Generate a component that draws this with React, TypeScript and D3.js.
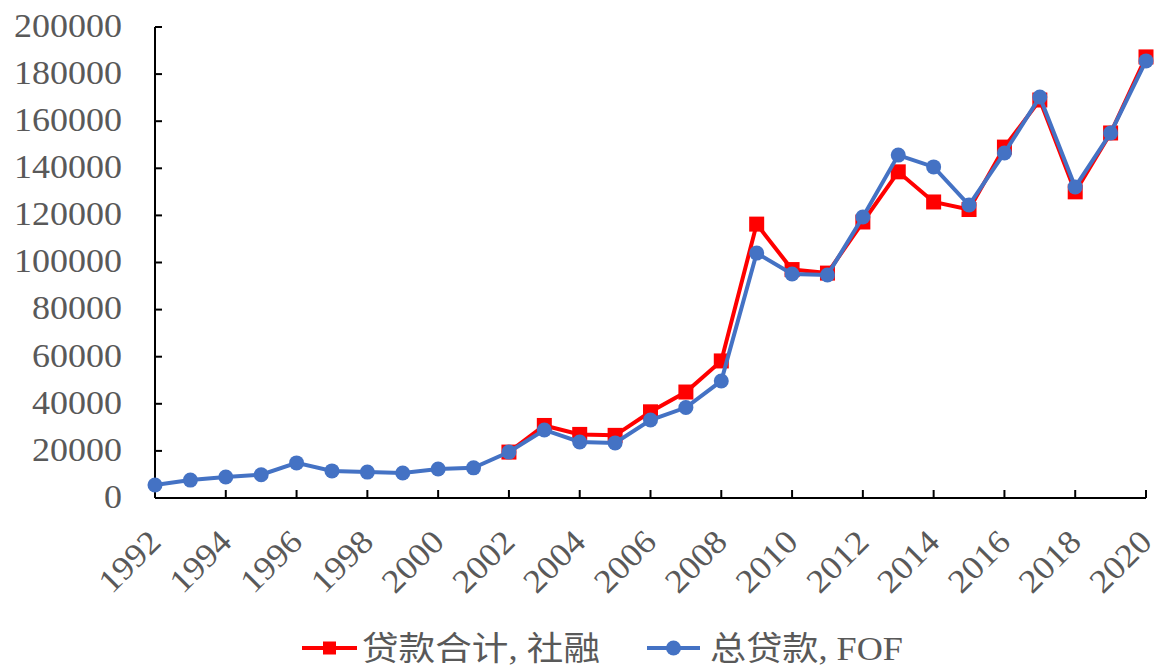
import React from "react";
import * as d3 from "d3";

const years: number[] = d3.range(1992, 2021);
const fofLoans: number[] = [
  5500, 7600, 8900, 9900, 14900, 11500, 11000, 10600, 12300, 12800,
  19500, 28900, 23800, 23400, 33100, 38400, 49700, 104000, 95100, 94700,
  119300, 145600, 140600, 124400, 146500, 170300, 132100, 155000, 185600,
];
const tsfYears: number[] = d3.range(2002, 2021);
const tsfLoans: number[] = [
  19500, 30800, 27000, 26600, 36600, 45000, 58200, 116300, 97000, 95500,
  117200, 138500, 125700, 122500, 149000, 169000, 130000, 155000, 187300,
];
const yTicks: number[] = d3.range(0, 200001, 20000);
const xTicks: number[] = d3.range(1992, 2021, 2);
const seriesNames = ["贷款合计, 社融", "总贷款, FOF"];

const W = 1155;
const H = 668;
const left = 155;
const right = 1146;
const top = 27;
const bottom = 498;
const textColor = "#595959";
const red = "#FF0000";
const blue = "#4472C4";
const font = "'Liberation Serif', 'Times New Roman', 'Noto Sans CJK SC', serif";
const digitW = 18;

export default function App() {
  const x = d3.scaleLinear().domain([1992, 2020]).range([left, right]);
  const y = d3.scaleLinear().domain([0, 200000]).range([bottom, top]);
  const line = d3
    .line<[number, number]>()
    .x((d) => x(d[0]))
    .y((d) => y(d[1]));
  const fof: [number, number][] = years.map((yr, i) => [yr, fofLoans[i]]);
  const tsf: [number, number][] = tsfYears.map((yr, i) => [yr, tsfLoans[i]]);
  const sq = 15;
  const r = 7.5;

  return (
    <svg
      width={W}
      height={H}
      style={{ position: "absolute", left: 0, top: 0, background: "#fff" }}
      fontFamily={font}
    >
      {/* y axis */}
      <line x1={left} x2={left} y1={top} y2={bottom} stroke="#000" strokeWidth={2} />
      {yTicks.map((t) => (
        <g key={t}>
          <line x1={left} x2={left + 7} y1={y(t)} y2={y(t)} stroke="#000" strokeWidth={2} />
          <text
            x={122}
            y={y(t) - 1}
            dy="0.33em"
            textAnchor="end"
            fontSize={33}
            fill={textColor}
            textLength={String(t).length * digitW}
            lengthAdjust="spacingAndGlyphs"
          >
            {t}
          </text>
        </g>
      ))}
      {/* x axis */}
      <line x1={left} x2={right} y1={bottom} y2={bottom} stroke="#000" strokeWidth={2} />
      {xTicks.map((t) => (
        <g key={t}>
          <line x1={x(t)} x2={x(t)} y1={bottom} y2={bottom - 8} stroke="#000" strokeWidth={2} />
          <text
            transform={`translate(${x(t)},${bottom + 38}) rotate(-45)`}
            textAnchor="end"
            dominantBaseline="central"
            fontSize={33}
            fill={textColor}
            textLength={String(t).length * digitW}
            lengthAdjust="spacingAndGlyphs"
          >
            {t}
          </text>
        </g>
      ))}
      {/* series: TSF loans (red squares) */}
      <path d={line(tsf) || ""} fill="none" stroke={red} strokeWidth={4} />
      {tsf.map((d) => (
        <rect
          key={d[0]}
          x={x(d[0]) - sq / 2}
          y={y(d[1]) - sq / 2}
          width={sq}
          height={sq}
          fill={red}
        />
      ))}
      {/* series: FOF loans (blue circles) */}
      <path d={line(fof) || ""} fill="none" stroke={blue} strokeWidth={4} />
      {fof.map((d) => (
        <circle key={d[0]} cx={x(d[0])} cy={y(d[1])} r={r} fill={blue} />
      ))}
      {/* legend */}
      <g transform="translate(302,648)">
        <line x1={0} x2={55} y1={0} y2={0} stroke={red} strokeWidth={4} />
        <rect x={27.5 - 6.5} y={-6.5} width={13} height={13} fill={red} />
        <text
          x={60}
          y={0}
          dy="0.36em"
          fontSize={33}
          fill={textColor}
          textLength={238}
          lengthAdjust="spacingAndGlyphs"
        >
          {seriesNames[0]}
        </text>
      </g>
      <g transform="translate(647,648)">
        <line x1={0} x2={53} y1={0} y2={0} stroke={blue} strokeWidth={4} />
        <circle cx={26.5} cy={0} r={7.5} fill={blue} />
        <text
          x={63}
          y={0}
          dy="0.36em"
          fontSize={33}
          fill={textColor}
          textLength={193}
          lengthAdjust="spacingAndGlyphs"
        >
          {seriesNames[1]}
        </text>
      </g>
    </svg>
  );
}
